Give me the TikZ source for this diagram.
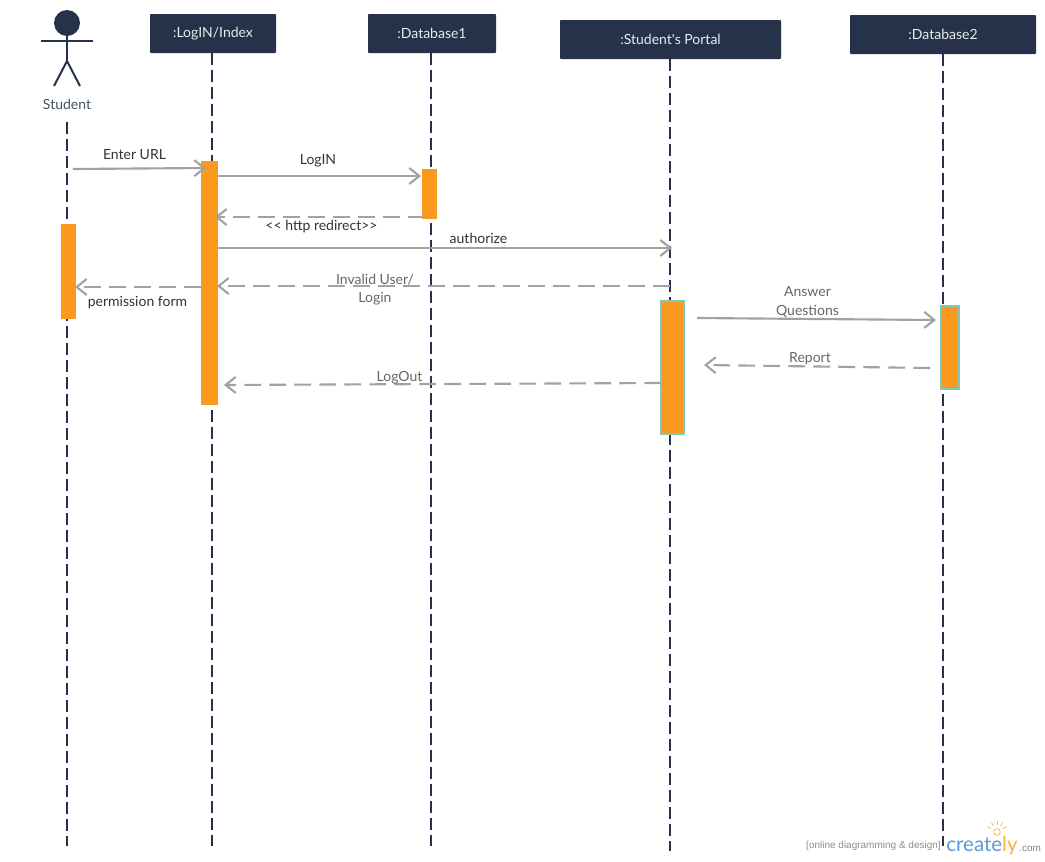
\documentclass[tikz,border=0pt]{standalone}
\usepackage{fontspec}
\setmainfont{Lato}
\newfontfamily\logofont{Liberation Sans}
\usetikzlibrary{arrows.meta}
\definecolor{navy}{HTML}{25324A}
\definecolor{barfill}{HTML}{F9991E}
\definecolor{barteal}{HTML}{7FC7B8}
\definecolor{msggrey}{HTML}{A2A2A2}
\definecolor{logoblue}{HTML}{5B9BD5}
\definecolor{logoorange}{HTML}{FBB040}
\begin{document}
\begin{tikzpicture}[x=0.75pt,y=-0.75pt,
    hdr/.style={fill=navy,text=white!90!navy,rounded corners=0.6pt,inner sep=0,outer sep=0,minimum height=29.25pt,font=\fontsize{10.5pt}{12pt}\selectfont},
    life/.style={navy,line width=1.5pt,dash pattern=on 9pt off 3.75pt},
    bar/.style={fill=barfill,inner sep=0,outer sep=0},
    tbar/.style={bar,draw=barteal,line width=1.5pt},
    msg/.style={msggrey,line width=1.6pt,-{Straight Barb[length=7.5pt,width=12pt,line width=1.6pt]}},
    ret/.style={msg,dash pattern=on 12.5pt off 6.25pt},
    lbl/.style={inner sep=0,font=\fontsize{10.5pt}{12pt}\selectfont,text=black!80},
    glbl/.style={lbl,text=black!60}]
    \useasboundingbox (0,0) rectangle (1045,861);
    \node[hdr,minimum width=94.5pt] (h2) at (213,33.5) {:LogIN/Index};
    \node[hdr,minimum width=96pt] (h3) at (432,33.5) {:Database1};
    \node[hdr,minimum width=165.75pt] (h4) at (670.5,39.5) {:Student\textquotesingle s Portal};
    \node[hdr,minimum width=139.5pt] (h5) at (943,34.5) {:Database2};
    \node[fill=navy,circle,inner sep=0,minimum size=19.5pt] (head) at (67,23) {};
    \coordinate (hip) at (67,61);
    \coordinate (armL) at (41,41);
    \coordinate (armR) at (93,41);
    \coordinate (footL) at (54,86);
    \coordinate (footR) at (80,86);
    \draw[navy,line width=1.5pt] (head) -- (hip);
    \draw[navy,line width=1.5pt] (armL) -- (armR);
    \draw[navy,line width=1.5pt] (footL) -- (hip) -- (footR);
    \node[lbl,text=navy!85] (student) at (67,104.5) {Student};
    \coordinate (t1) at (67,122);
    \coordinate (l1) at (67,846);
    \coordinate (t2) at (212,53);
    \coordinate (l2) at (212,846);
    \coordinate (t3) at (431,53);
    \coordinate (l3) at (431,846);
    \coordinate (t4) at (670,59);
    \coordinate (l4) at (670,851);
    \coordinate (t5) at (942.5,54);
    \coordinate (l5) at (942.5,846);
    \draw[life] (t1) -- (l1);
    \draw[life] (t2) -- (l2);
    \draw[life] (t3) -- (l3);
    \draw[life] (t4) -- (l4);
    \draw[life] (t5) -- (l5);
    \node[bar,minimum width=11.25pt,minimum height=71.25pt] (a1) at (68.5,271.5) {};
    \node[bar,minimum width=12.75pt,minimum height=183pt] (a2) at (209.5,283) {};
    \node[bar,minimum width=11.25pt,minimum height=37.5pt] (a3) at (429.5,194) {};
    \node[tbar,minimum width=17.25pt,minimum height=99.75pt] (a4) at (672.5,367.5) {};
    \node[tbar,minimum width=13.5pt,minimum height=62.25pt] (a5) at (950,347.5) {};
    \coordinate (m1a) at (73,169);
    \coordinate (m1b) at (206,168);
    \coordinate (m2a) at (218,176);
    \coordinate (m2b) at (421,176);
    \coordinate (m3a) at (425,217);
    \coordinate (m3b) at (215,217);
    \coordinate (m4a) at (218,248);
    \coordinate (m4b) at (672,248);
    \coordinate (m5a) at (670,286);
    \coordinate (m5b) at (217,286);
    \coordinate (m6a) at (201,287);
    \coordinate (m6b) at (75,287);
    \coordinate (m7a) at (697,318);
    \coordinate (m7b) at (936,320);
    \coordinate (m8a) at (930,368);
    \coordinate (m8b) at (704,365);
    \coordinate (m9a) at (661,383);
    \coordinate (m9b) at (224,385);
    \draw[msg] (m1a) -- (m1b);
    \draw[msg] (m2a) -- (m2b);
    \draw[ret] (m3a) -- (m3b);
    \draw[msg] (m4a) -- (m4b);
    \draw[ret] (m5a) -- (m5b);
    \draw[ret] (m6a) -- (m6b);
    \draw[msg] (m7a) -- (m7b);
    \draw[ret] (m8a) -- (m8b);
    \draw[ret] (m9a) -- (m9b);
    \node[lbl] (n1) at (134.5,154.5) {Enter URL};
    \node[lbl] (n2) at (318,161) {LogIN};
    \node[lbl] (n3) at (321.5,227) {{<}{<} http redirect{>}{>}};
    \node[lbl] (n4) at (478.5,238.5) {authorize};
    \node[glbl] (n5) at (375,280) {Invalid User/};
    \node[glbl] (n5b) at (375,299) {Login};
    \node[lbl] (n6) at (137.5,303) {permission form};
    \node[glbl] (n7) at (807.5,291.5) {Answer};
    \node[glbl] (n7b) at (807.5,311) {Questions};
    \node[glbl] (n8) at (810,359) {Report};
    \node[glbl] (n9) at (399.5,378) {LogOut};
    \node[inner sep=0,anchor=east,text=black!45,font=\logofont\fontsize{7.5pt}{8pt}\selectfont] (tag) at (941,846) {[online diagramming \& design]};
    \node[inner sep=0,anchor=base west,text=logoblue,font=\fontsize{15.4pt}{20pt}\selectfont] (logo) at (946,851) {create\textcolor{logoorange}{ly}};
    \node[inner sep=0,anchor=base west,text=black!50,font=\logofont\fontsize{7.5pt}{8pt}\selectfont] (com) at (1019,851) {.com};
    \node[draw=logoorange,circle,inner sep=0,minimum size=5pt,line width=0.5pt] (bulb) at (997,832) {};
    \foreach \ang in {-150,-120,-90,-60,-30}
      \draw[logoorange,line width=0.5pt] (bulb) ++(\ang:7) -- ++(\ang:4);
\end{tikzpicture}
\end{document}
